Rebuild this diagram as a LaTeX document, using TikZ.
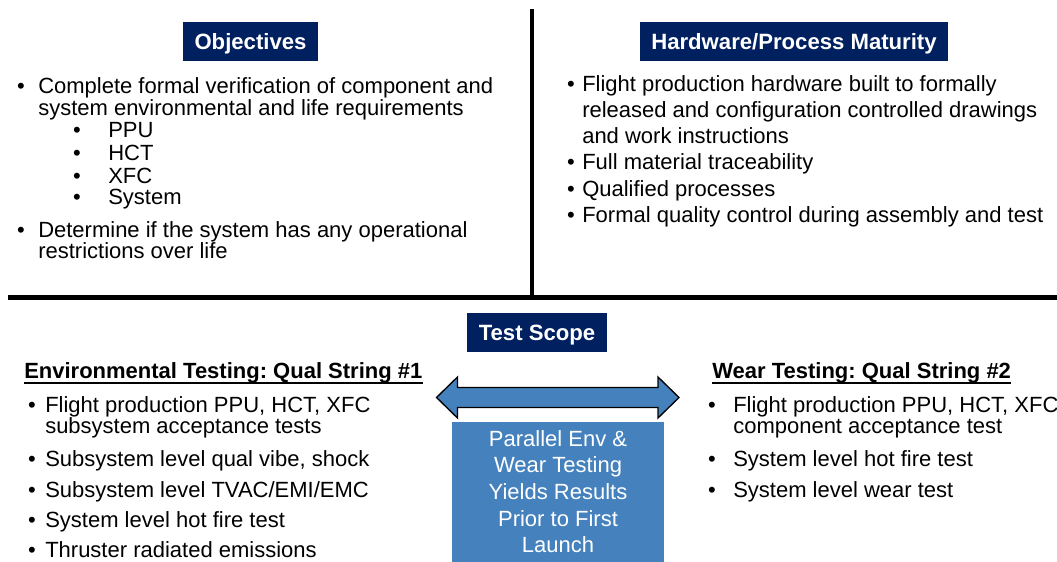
\documentclass[tikz,border=0pt]{standalone}
\usepackage{fontspec}
\setmainfont{Liberation Sans}
\usetikzlibrary{positioning}
\newlength\pix
\setlength\pix{0.75pt}
\frenchspacing
\definecolor{navy}{RGB}{0,32,96}
\definecolor{steel}{RGB}{69,130,189}
\tikzset{head/.style = {fill=navy, text=white, inner sep=0pt, text height=12pt, text depth=0pt,
                        font=\bfseries\fontsize{16.6}{20}\selectfont},
         txt/.style  = {anchor=base west, inner sep=0pt, font=\fontsize{16.5}{20}\selectfont},
         bul/.style  = {anchor=base, inner sep=0pt, font=\fontsize{16.5}{20}\selectfont},
         sect/.style = {anchor=base west, inner sep=0pt, font=\bfseries\fontsize{16.5}{20}\selectfont},
         uline/.style = {line width=1.5pt}}

\begin{document}
\begin{tikzpicture}[x=0.75pt, y=-0.75pt]
  \useasboundingbox (0,0) rectangle (1057,561);
  % dividers
  \draw [line width=4.5\pix] (532,9) -- (532,297);
  \draw [line width=4.5\pix] (8,297.5) -- (1057,297.5);

  % headers
  \node [head, minimum width=135\pix, minimum height=39\pix] (obj) at (250.5,41.5) {Objectives};
  \node [head, minimum width=308\pix, minimum height=39\pix] (hw) at (794,41.5) {Hardware/Process Maturity};
  \node [head, minimum width=140\pix, minimum height=39\pix] (scope) at (537,332.5) {Test Scope};

  % objectives
  \foreach \y/\t [count=\i] in {93/{Complete formal verification of component and},
                                115/{system environmental and life requirements},
                                237/{Determine if the system has any operational},
                                258/{restrictions over life}}
    \node [txt] (o\i) at (38,\y) {\t};
  \foreach \y/\t [count=\i] in {137/PPU, 160/HCT, 183/XFC, 204/System}
    \node [txt] (s\i) at (108,\y) {\t};
  \foreach \x/\y [count=\i] in {21/93, 21/237, 77/137, 77/160, 77/183, 77/204}
    \node [bul] (ob\i) at (\x,\y) {\textbullet};

  % maturity
  \foreach \y/\t [count=\i] in {91/{Flight production hardware built to formally},
                                117/{released and configuration controlled drawings},
                                143/{and work instructions},
                                169/{Full material traceability},
                                196/{Qualified processes},
                                222/{Formal quality control during assembly and test}}
    \node [txt] (m\i) at (582,\y) {\t};
  \foreach \y [count=\i] in {91, 169, 196, 222}
    \node [bul] (mb\i) at (571,\y) {\textbullet};

  % environmental string
  \node [sect] (env) at (24,378) {Environmental Testing: Qual String \#1};
  \draw [uline] ([yshift=-4.5\pix]env.base west) -- ([yshift=-4.5\pix]env.base east);
  \foreach \y/\t [count=\i] in {412/{Flight production PPU, HCT, XFC},
                                433/{subsystem acceptance tests},
                                466/{Subsystem level qual vibe, shock},
                                497/{Subsystem level TVAC/EMI/EMC},
                                527/{System level hot fire test},
                                557/{Thruster radiated emissions}}
    \node [txt] (e\i) at (45,\y) {\t};
  \foreach \y [count=\i] in {412, 466, 497, 527, 557}
    \node [bul] (eb\i) at (32,\y) {\textbullet};

  % wear string
  \node [sect] (wear) at (712,378) {Wear Testing: Qual String \#2};
  \draw [uline] ([yshift=-4.5\pix]wear.base west) -- ([yshift=-4.5\pix]wear.base east);
  \foreach \y/\t [count=\i] in {412/{Flight production PPU, HCT, XFC},
                                433/{component acceptance test},
                                466/{System level hot fire test},
                                497/{System level wear test}}
    \node [txt] (w\i) at (733,\y) {\t};
  \foreach \y [count=\i] in {412, 466, 497}
    \node [bul] (wb\i) at (712,\y) {\textbullet};

  % parallel arrow and result box
  \draw [fill=steel, line width=1pt] (436.5,397.5) -- (457.5,377) -- (457.5,387.5) -- (658,387.5)
        -- (658,377) -- (679,397.5) -- (658,418) -- (658,407.5) -- (457.5,407.5) -- (457.5,418) -- cycle;
  \node [fill=steel, text=white, align=center, inner sep=0pt, minimum width=212\pix, minimum height=140\pix,
         font=\fontsize{16.5}{20}\selectfont] (res) at (558,491.5)
        {Parallel Env \&\\Wear Testing\\Yields Results\\Prior to First\\Launch};
\end{tikzpicture}
\end{document}
